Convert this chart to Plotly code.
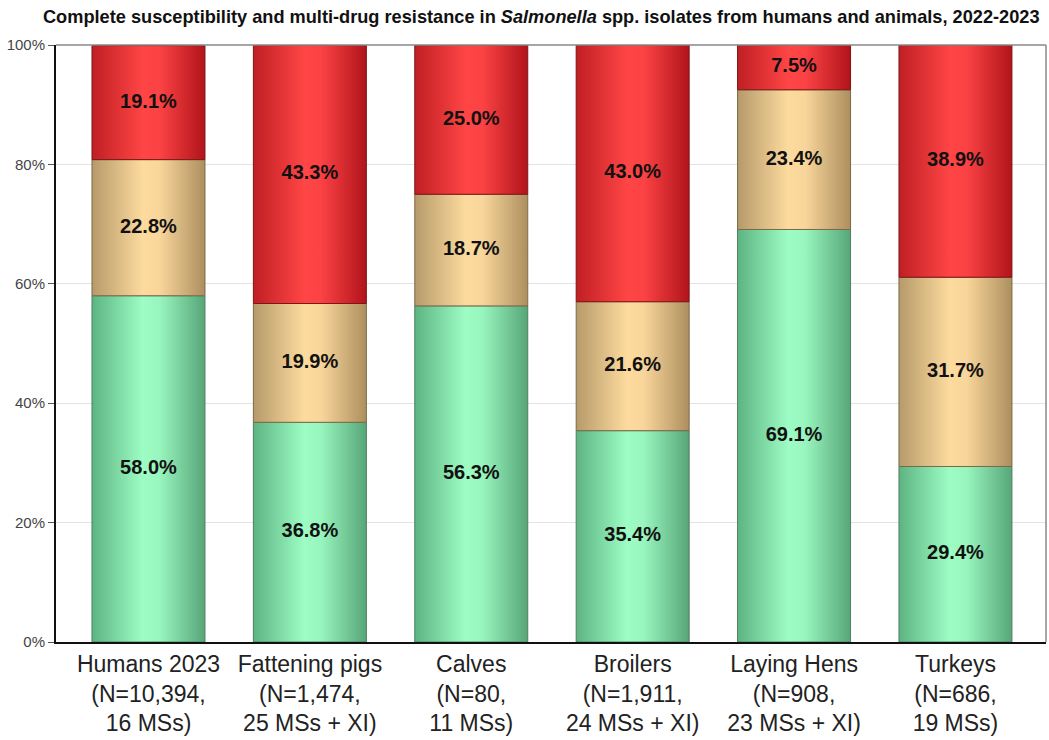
import plotly.graph_objects as go

# categories and shares (%)
categories = [
    "Humans 2023<br>(N=10,394,<br>16 MSs)",
    "Fattening pigs<br>(N=1,474,<br>25 MSs + XI)",
    "Calves<br>(N=80,<br>11 MSs)",
    "Broilers<br>(N=1,911,<br>24 MSs + XI)",
    "Laying Hens<br>(N=908,<br>23 MSs + XI)",
    "Turkeys<br>(N=686,<br>19 MSs)",
]
susceptible = [58.0, 36.8, 56.3, 35.4, 69.1, 29.4]
middle = [22.8, 19.9, 18.7, 21.6, 23.4, 31.7]
mdr = [19.1, 43.3, 25.0, 43.0, 7.5, 38.9]
y_ticks = [0, 20, 40, 60, 80, 100]

# gradient styles for each stack level (dark edge -> light -> dark edge)
styles = [
    dict(scale=[[0, "#5db482"], [0.45, "#9dfdc4"], [0.6, "#98f5bd"], [1, "#57a678"]], line="#4d7f60"),
    dict(scale=[[0, "#b69a6a"], [0.45, "#fddb9e"], [0.6, "#f8d59a"], [1, "#ad8f5f"]], line="#7c6848"),
    dict(scale=[[0, "#bf1f24"], [0.45, "#ff4545"], [0.6, "#fb4244"], [1, "#b0141a"]], line="#7e1518"),
]

half_w = 0.35
fig = go.Figure()

series = [susceptible, middle, mdr]
text_x, text_y, text_s = [], [], []
for i in range(len(categories)):
    base = 0.0
    for level, vals in enumerate(series):
        v = vals[i]
        top = base + v
        st = styles[level]
        fig.add_trace(go.Scatter(
            x=[i - half_w, i + half_w, i + half_w, i - half_w, i - half_w],
            y=[base, base, top, top, base],
            mode="lines",
            fill="toself",
            fillgradient=dict(type="horizontal", colorscale=st["scale"]),
            line=dict(color=st["line"], width=1),
            hoverinfo="skip",
            showlegend=False,
        ))
        text_x.append(i)
        text_y.append(base + v / 2)
        text_s.append(f"{v:.1f}%")
        base = top

fig.add_trace(go.Scatter(
    x=text_x, y=text_y, text=text_s, mode="text",
    textfont=dict(family="Liberation Sans", size=20, color="#111111", weight="bold"),
    hoverinfo="skip", showlegend=False,
))

fig.update_layout(
    width=1049, height=740,
    margin=dict(l=56, r=3, t=45, b=98),
    paper_bgcolor="white", plot_bgcolor="white",
    title=dict(
        text="<b>Complete susceptibility and multi-drug resistance in <i>Salmonella</i> spp. isolates from humans and animals, 2022-2023</b>",
        x=0.516, xanchor="center", y=0.978, yanchor="middle",
        font=dict(family="Liberation Sans", size=18.2, color="#111111"),
    ),
    xaxis=dict(
        range=[-0.573, 5.561], automargin=False,
        tickvals=list(range(len(categories))), ticktext=categories,
        showgrid=False, zeroline=False, showline=True, linecolor="#111111", linewidth=2,
        ticks="", tickfont=dict(family="Liberation Sans", size=23, color="#222222"),
    ),
    yaxis=dict(
        range=[0, 100], automargin=False,
        tickvals=y_ticks, ticktext=[f"{t}%" for t in y_ticks],
        showgrid=True, gridcolor="#e3e3e3", gridwidth=1, zeroline=False,
        showline=True, linecolor="#111111", linewidth=2,
        ticks="outside", ticklen=6, tickcolor="#555555",
        tickfont=dict(family="Liberation Sans", size=15, color="#444444"),
    ),
    shapes=[
        dict(type="line", xref="paper", yref="paper", x0=0, x1=1, y0=1, y1=1,
             line=dict(color="#888888", width=1.5)),
        dict(type="line", xref="paper", yref="paper", x0=1, x1=1, y0=0, y1=1,
             line=dict(color="#888888", width=1.5)),
    ],
)

# drop the default page margin so the figure sits at the window origin
fig.write_html(
    "out.html",
    config={"displayModeBar": False},
    post_script="document.body.style.margin='0';document.body.style.overflow='hidden';",
)
